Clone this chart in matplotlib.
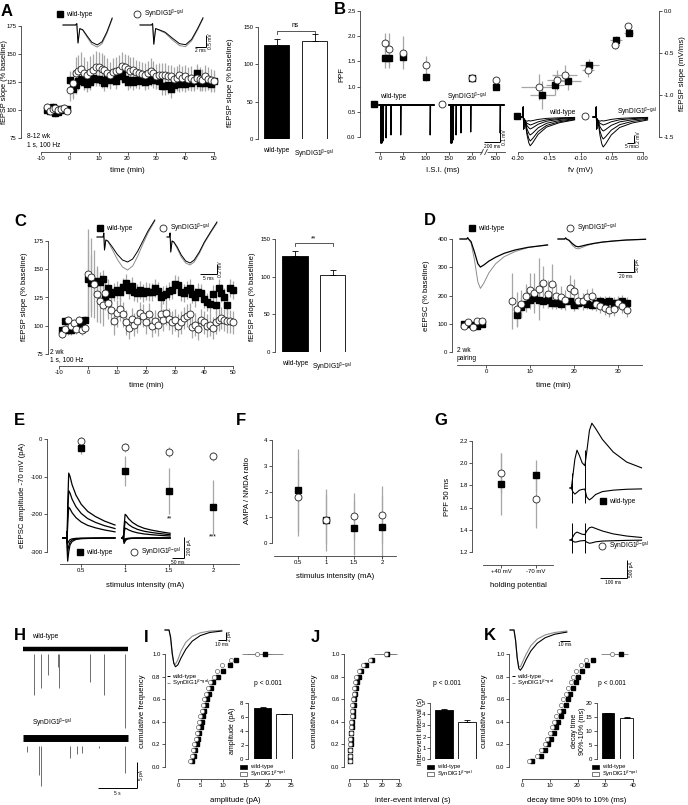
import numpy as np
import matplotlib
matplotlib.use("Agg")
import matplotlib.pyplot as plt
from matplotlib.lines import Line2D
from matplotlib.patches import Rectangle

plt.rcParams['font.family'] = ['Liberation Sans', 'DejaVu Sans']
plt.rcParams['mathtext.fontset'] = 'custom'
plt.rcParams['mathtext.rm'] = 'Liberation Sans'
plt.rcParams['mathtext.it'] = 'Liberation Sans:italic'
plt.rcParams['mathtext.bf'] = 'Liberation Sans:bold'

# ======================= DATA =======================
# ---- Panel A (8-12 wk, LTP) ----
A_t_base = [-8, -7, -6, -5, -4, -3, -2, -1]
A_wt_base = [100, 99, 103, 97, 98, 101, 100, 101]
A_syn_base = [103, 99, 101, 102, 100, 101, 102, 99]
A_base_err = [3, 3, 3, 3, 3, 3, 3, 3]
A_t_post = list(range(0, 51))
A_wt_post = [127, 119, 122, 126, 128, 125, 123, 125, 129, 128,
             128, 127, 124, 130, 127, 129, 126, 130, 132, 128,
             125, 127, 125, 127, 126, 128, 125, 126, 128, 127,
             127, 126, 121, 121, 122, 119, 122, 124, 123, 124,
             123, 125, 124, 126, 133, 124, 125, 124, 126, 123, 126]
A_wt_err = [8, 9, 8, 8, 7, 7, 7, 7, 8, 7,
            7, 7, 7, 8, 7, 7, 7, 7, 8, 7,
            7, 7, 7, 7, 7, 7, 7, 7, 7, 7,
            7, 7, 8, 8, 8, 8, 7, 7, 7, 7,
            7, 7, 7, 7, 8, 7, 7, 7, 7, 7, 7]
A_syn_post = [118, 124, 133, 135, 137, 133, 131, 134, 136, 138,
              138, 137, 136, 133, 131, 134, 135, 136, 139, 138,
              137, 135, 136, 134, 133, 132, 131, 133, 135, 133,
              130, 131, 131, 131, 130, 130, 128, 129, 131, 129,
              130, 128, 129, 127, 129, 128, 127, 130, 128, 127, 126]
A_syn_err = [10, 12, 14, 14, 15, 14, 13, 14, 14, 15,
             14, 14, 13, 13, 12, 12, 12, 13, 13, 12,
             12, 12, 11, 11, 11, 11, 11, 11, 11, 11,
             11, 11, 11, 11, 10, 10, 10, 10, 10, 10,
             10, 10, 10, 10, 10, 10, 10, 10, 10, 10, 10]
A_bar_labels = ['wild-type', r'SynDIG1$^{\beta\mathrm{-gal}}$']
A_bar_vals = [126, 131]
A_bar_err = [8, 9]

# fEPSP example traces (ms, mV)
A_tr_t_wt = [0, 2.1, 2.3, 2.5, 2.8, 3.3, 4.0, 4.8, 5.7, 6.5, 7.3, 8.2]
A_tr_wt_k = [0, 0, 0.06, -0.75, -0.15, -0.2, -0.45, -0.72, -0.83, -0.7, -0.3, 0.29]
A_tr_wt_g = [0, 0, 0.06, -0.75, -0.15, -0.22, -0.5, -0.8, -0.92, -0.78, -0.36, 0.25]
A_tr_t_syn = [0, 1.9, 2.1, 2.3, 2.6, 3.2, 4.2, 5.4, 6.6, 7.6, 8.6, 9.6, 10.5]
A_tr_syn_k = [0, 0, 0.06, -0.8, -0.15, -0.2, -0.3, -0.55, -0.78, -0.82, -0.6, -0.15, 0.3]
A_tr_syn_g = [0, 0, 0.06, -0.8, -0.15, -0.22, -0.34, -0.62, -0.86, -0.9, -0.66, -0.2, 0.26]

# ---- Panel B ----
B_isi = [10, 20, 50, 100, 200, 500]
B_isi_ticks = [0, 50, 100, 150, 200, 500]
B_ppf_wt = [1.57, 1.57, 1.59, 1.19, 1.17, 0.99]
B_ppf_wt_err = [0.2, 0.2, 0.1, 0.08, 0.08, 0.05]
B_ppf_syn = [1.87, 1.74, 1.67, 1.42, 1.18, 1.13]
B_ppf_syn_err = [0.2, 0.33, 0.33, 0.18, 0.06, 0.05]
B_fv_wt = [-0.161, -0.141, -0.120, -0.086, -0.043, -0.023]
B_fv_wt_err = [0.02, 0.015, 0.02, 0.015, 0.01, 0.007]
B_sl_wt = [-1.00, -0.885, -0.837, -0.647, -0.341, -0.258]
B_sl_wt_err = [0.17, 0.12, 0.1, 0.07, 0.04, 0.03]
B_fv_syn = [-0.167, -0.138, -0.125, -0.088, -0.045, -0.024]
B_fv_syn_err = [0.028, 0.015, 0.02, 0.01, 0.006, 0.005]
B_sl_syn = [-0.905, -0.825, -0.766, -0.706, -0.409, -0.183]
B_sl_syn_err = [0.15, 0.12, 0.12, 0.08, 0.04, 0.03]
# paired-pulse example sweeps (depth of 1st and 2nd response, mV)
B_pp_first = 0.38
B_pp_wt_second = [0.38, 0.36, 0.33, 0.30, 0.30, 0.30]
B_pp_syn_second = [0.38, 0.35, 0.30, 0.28, 0.27, 0.28]
# input-output sweeps (ms, relative shape, amplitudes mV)
B_io_t = [0, 2, 2.3, 2.6, 3.0, 3.8, 5.0, 6.3, 7.3, 9, 13, 19, 28, 39]
B_io_art = [0, 0, 0.25, -0.3, -0.05, -0.08, -0.05, 0, 0, 0, 0, 0, 0, 0]
B_io_shape = [0, 0, 0, 0, 0, -0.1, -0.55, -0.9, -1.0, -0.9, -0.6, -0.35, -0.2, -0.1]
B_io_wt_amp = [0.1, 0.2, 0.3, 0.45, 0.6, 0.72]
B_io_syn_amp = [0.1, 0.2, 0.35, 0.55, 0.75]

# ---- Panel C (2 wk, LTP) ----
C_t_base = [-9, -8, -7, -6, -5, -4, -3, -2, -1]
C_wt_base = [96, 104, 96, 96, 101, 99, 101, 99, 105]
C_syn_base = [93, 97, 105, 100, 102, 97, 105, 96, 98]
C_base_err = [4, 4, 4, 4, 4, 4, 4, 4, 4]
C_t_post = list(range(0, 51))
C_wt_post = [141, 138, 138, 140, 139, 141, 125, 133, 128, 130,
             132, 130, 134, 138, 132, 135, 130, 129, 132, 129,
             131, 130, 130, 133, 131, 125, 127, 128, 131, 132,
             137, 136, 130, 129, 132, 133, 128, 125, 130, 129,
             124, 121, 119, 128, 118, 133, 129, 125, 118, 133, 132]
C_wt_err = [35, 25, 12, 10, 9, 8, 8, 8, 8, 8,
            8, 8, 8, 8, 8, 8, 8, 8, 8, 8,
            8, 8, 8, 8, 8, 8, 8, 8, 8, 8,
            8, 8, 8, 8, 8, 8, 8, 8, 8, 8,
            8, 8, 8, 8, 8, 8, 8, 8, 8, 8, 8]
C_syn_post = [146, 143, 137, 128, 122, 118, 129, 120, 114, 104,
              111, 115, 110, 103, 98, 106, 101, 104, 111, 109,
              103, 110, 100, 104, 101, 110, 105, 111, 106, 103,
              105, 100, 103, 107, 109, 110, 99, 101, 97, 105,
              103, 100, 101, 98, 103, 105, 107, 105, 104, 104, 103]
C_syn_err = [40, 35, 30, 25, 20, 18, 15, 14, 13, 12,
             12, 11, 11, 11, 10, 10, 10, 10, 10, 10,
             10, 10, 10, 10, 10, 10, 10, 10, 10, 10,
             10, 10, 10, 10, 10, 10, 10, 10, 10, 10,
             10, 10, 10, 10, 10, 10, 10, 10, 10, 10, 10]
C_bar_vals = [128, 102]
C_bar_err = [6, 7]
C_tr_t_wt = [0, 1.8, 2.0, 2.2, 2.6, 3.2, 4.5, 6.0, 7.5, 9.0, 10.5, 12.0, 13.5, 15.0, 17.0]
C_tr_wt_k = [0, 0, 0.08, -0.26, -0.06, -0.08, -0.2, -0.35, -0.46, -0.5, -0.44, -0.28, -0.08, 0.12, 0.34]
C_tr_wt_g = [0, 0, 0.08, -0.26, -0.06, -0.09, -0.25, -0.45, -0.6, -0.66, -0.58, -0.38, -0.14, 0.08, 0.32]
C_tr_t_syn = [0, 0.7, 0.9, 1.1, 1.5, 2.0, 3.0, 4.2, 5.5, 6.8, 8.0, 9.5, 11.0, 12.8, 14.7]
C_tr_syn_k = [0, 0, 0.08, -0.3, -0.08, -0.1, -0.2, -0.36, -0.48, -0.52, -0.46, -0.3, -0.1, 0.1, 0.3]
C_tr_syn_g = [0, 0, 0.08, -0.3, -0.08, -0.1, -0.23, -0.4, -0.52, -0.56, -0.5, -0.33, -0.12, 0.08, 0.28]

# ---- Panel D (2 wk, pairing) ----
D_t_base = [-5, -4, -3, -2, -1]
D_wt_base = [100, 98, 96, 93, 100]
D_syn_base = [93, 107, 88, 108, 111]
D_base_err = [8, 8, 8, 8, 8]
D_t_syn = list(range(6, 33))
D_syn_post = [180, 153, 171, 197, 221, 209, 223, 244, 205, 242, 199, 193, 183, 227,
              217, 182, 179, 193, 197, 171, 162, 156, 150, 152, 173, 164, 150]
D_syn_err = [100, 60, 50, 45, 60, 70, 110, 60, 50, 70, 40, 40, 35, 45,
             40, 30, 30, 30, 30, 25, 25, 25, 25, 25, 25, 25, 25]
D_t_wt = list(range(7, 33))
D_wt_post = [132, 159, 171, 183, 191, 185, 182, 185, 173, 173, 171, 179, 179,
             165, 173, 176, 171, 168, 173, 179, 177, 179, 173, 173, 182, 173]
D_wt_err = [45, 35, 30, 30, 30, 25, 25, 25, 20, 20, 20, 20, 20,
            20, 20, 20, 20, 20, 20, 20, 20, 20, 20, 20, 20, 20]
D_tr_t = [0, 8, 9, 10, 13, 17, 21, 24, 28, 34, 42, 52, 65, 80, 103]
D_tr_wt_k = [0, 0, 5, 0, -10, -50, -95, -108, -100, -85, -70, -55, -42, -32, -23]
D_tr_wt_g = [0, 0, 5, 0, -15, -80, -165, -190, -170, -130, -95, -68, -48, -33, -22]
D_tr_syn_k = [0, 0, 4, 0, -5, -18, -28, -30, -27, -22, -17, -12, -8, -4, -1]
D_tr_syn_g = [0, 0, 4, 0, -6, -25, -36, -38, -33, -25, -18, -12, -7, -4, -1]

# ---- Panel E ----
E_x = [0.5, 1, 1.5, 2]
E_wt = [-24, -85, -138, -180]
E_wt_err = [16, 40, 62, 72]
E_syn = [-4, -22, -35, -46]
E_syn_err = [9, 12, 13, 12]
E_tr_t_wt = [0, 14, 15, 16, 18, 22, 27, 35, 50, 70, 95, 125, 160, 200]
E_tr_t_syn = [0, 4, 5, 6, 8, 12, 17, 25, 40, 60, 85, 115, 150, 185]
E_up_shape = [0, 0, 0.1, -0.08, 0.5, 1.0, 0.95, 0.82, 0.66, 0.52, 0.41, 0.33, 0.26, 0.2]
E_dn_shape = [0, 0, 0.1, -0.5, -1.0, -0.6, -0.3, -0.15, -0.06, -0.03, -0.02, -0.01, 0, 0]
E_wt_up_amp = [590, 430, 280]
E_wt_dn_amp = [210, 120, 50]
E_syn_up_amp = [215, 150, 90]
E_syn_dn_amp = [50, 30, 15]

# ---- Panel F ----
F_x = [0.5, 1, 1.5, 2]
F_wt = [2.05, 0.9, 0.58, 0.61]
F_wt_err = [1.6, 0.95, 1.05, 1.2]
F_syn = [1.78, 0.9, 1.03, 1.1]
F_syn_err = [1.5, 1.2, 0.9, 1.1]

# ---- Panel G ----
G_labels = ['+40 mV', '-70 mV']
G_wt = [1.81, 1.89]
G_wt_err = [0.28, 0.14]
G_syn = [1.91, 1.68]
G_syn_err = [0.18, 0.26]
G_tr_t = [0, 5, 10, 18, 26, 35, 45, 55, 62, 72, 81, 95, 120, 160, 210, 265]
G_wt_up = [0, 0, 300, 800, 1050, 900, 700, 620, 1000, 1600, 1800, 1650, 1350, 1000, 720, 560]
G_wt_dn = [0, 0, -100, -170, -120, -60, -40, -30, -250, -330, -280, -180, -100, -60, -35, -25]
G_syn_up = [0, 0, 80, 180, 220, 190, 160, 150, 250, 340, 360, 320, 250, 170, 110, 70]
G_syn_dn = [0, 0, -30, -60, -50, -30, -20, -15, -60, -90, -80, -50, -30, -20, -10, -5]
G_stim_t = [7, 55]

# ---- Panel H (mEPSC traces, s / pA) ----
H_dur = 13.5
H_wt_ev_t = [1.41, 2.31, 3.21, 4.49, 4.62, 8.59, 10.38, 13.08]
H_wt_ev_a = [8.8, 7.5, 5.0, 3.5, 7.5, 6.3, 8.8, 15.2]
H_syn_ev_t = [0.51, 2.05, 2.31, 6.03, 6.92, 7.56, 9.74, 13.08]
H_syn_ev_a = [2.7, 7.1, 9.2, 3.8, 3.1, 2.9, 1.9, 6.7]

# ---- Panels I, J, K (cumulative distributions) ----
cum_freq = [0.05, 0.10, 0.15, 0.20, 0.25, 0.30, 0.35, 0.40, 0.45, 0.50,
            0.55, 0.60, 0.65, 0.70, 0.75, 0.80, 0.85, 0.90, 0.95]
I_wt = [3.2, 3.6, 3.8, 4.1, 4.4, 4.7, 5.0, 5.3, 5.6, 5.8, 6.1, 6.5, 6.8, 7.2, 7.8, 8.9, 10.0, 11.6, 12.8]
I_syn = [2.6, 3.1, 3.4, 3.6, 3.9, 4.1, 4.4, 4.7, 4.9, 5.2, 5.5, 5.8, 6.2, 6.6, 7.1, 7.9, 8.7, 9.8, 11.8]
I_top = {'wt': (19.3, 4.0), 'syn': (17.5, 3.3)}
I_bar = [7.3, 6.4]
I_bar_err = [0.12, 0.1]
J_wt = [0.35, 0.45, 0.6, 0.8, 1.0, 1.2, 1.45, 1.65, 1.9, 2.25, 2.5, 2.9, 3.3, 3.9, 4.6, 5.6, 7.3, 10.3, 13.8]
J_syn = [0.1, 0.2, 0.35, 0.45, 0.6, 0.8, 0.95, 1.15, 1.35, 1.6, 1.85, 2.15, 2.5, 2.9, 3.4, 4.1, 5.6, 8.3, 12.2]
J_top = {'wt': (22.5, 5.0), 'syn': (21.9, 7.0)}
J_bar = [4.35, 3.3]
J_bar_err = [0.15, 0.15]
K_wt = [3.6, 6.7, 8.2, 9.4, 10.6, 11.6, 12.4, 13.1, 14.0, 14.8, 15.7, 16.4, 17.2, 18.2, 19.3, 20.2, 21.8, 23.6, 25.6]
K_syn = [2.4, 5.5, 6.9, 8.2, 9.1, 10.0, 10.8, 11.6, 12.4, 13.2, 14.0, 14.9, 15.7, 16.6, 17.5, 18.4, 19.6, 21.4, 23.2]
K_top = {'wt': (35.6, 2.5), 'syn': (32.4, 4.0)}
K_bar = [16.3, 14.7]
K_bar_err = [0.3, 0.3]
# average mEPSC waveforms (ms, pA)
mini_t = [0, 5, 7, 9, 11, 13, 16, 20, 26, 34, 44, 56, 71]
I_tr_k = [0, 0, -2, -6.5, -9.5, -10.5, -10, -8, -5.5, -3.2, -1.6, -0.7, -0.3]
I_tr_g = [0, 0, -2.5, -7, -9.5, -9.8, -8.5, -6, -3.5, -1.8, -0.8, -0.3, -0.1]
K_tr_k = [0, 0, -3, -8, -11, -11.5, -10.5, -8.5, -6, -3.8, -2.2, -1.2, -0.6]
K_tr_g = [0, 0, -3, -8, -10.5, -10.5, -9, -7, -4.5, -2.6, -1.4, -0.7, -0.3]

# ======================= DRAWING =======================
W, H = 688, 805
fig = plt.figure(figsize=(W / 100, H / 100), dpi=100)

AXC = '#3a3a3a'
ERRC = '#a6a6a6'
TICK_FS = 4.3
LAB_FS = 5.6
LEG_FS = 4.8
SMALL_FS = 4.2
LET_FS = 12
SYN = r'SynDIG1$^{\beta\mathrm{-gal}}$'
GREY_TR = '#8c8c8c'


def mkax(l, t, r, b, xmap, ymap):
    ax = fig.add_axes([l / W, 1 - b / H, (r - l) / W, (b - t) / H])
    xv0, xp0, xv1, xp1 = xmap
    sx = (xp1 - xp0) / (xv1 - xv0)
    ax.set_xlim(xv0 + (l - xp0) / sx, xv0 + (r - xp0) / sx)
    yv0, yp0, yv1, yp1 = ymap
    sy = (yp1 - yp0) / (yv1 - yv0)
    ax.set_ylim(yv0 + (b - yp0) / sy, yv0 + (t - yp0) / sy)
    ax.patch.set_visible(False)
    return ax


def igor(ax, yb=None, yt=None, ytl=None, xb=None, xt=None, xtl=None, right=False):
    for s in ax.spines.values():
        s.set_visible(False)
    if yb is not None:
        side = 'right' if right else 'left'
        sp = ax.spines[side]
        sp.set_visible(True)
        sp.set_bounds(*yb)
        sp.set_color(AXC)
        sp.set_linewidth(0.6)
        ax.set_yticks(yt)
        ax.set_yticklabels(ytl)
        if right:
            ax.yaxis.tick_right()
    else:
        ax.set_yticks([])
    if xb is not None:
        sp = ax.spines['bottom']
        sp.set_visible(True)
        sp.set_bounds(*xb)
        sp.set_color(AXC)
        sp.set_linewidth(0.6)
        ax.set_xticks(xt)
        ax.set_xticklabels(xtl)
    else:
        ax.set_xticks([])
    ax.tick_params(length=2, width=0.6, color=AXC, pad=1.2, labelsize=TICK_FS, direction='out')


def ftext(x, y, s, size=LEG_FS, ha='left', va='center', rot=0, weight='normal', color='black'):
    fig.text(x / W, 1 - y / H, s, fontsize=size, ha=ha, va=va, rotation=rot,
             fontweight=weight, color=color)


def fline(xs, ys, color='black', lw=0.7):
    fig.add_artist(Line2D([x / W for x in xs], [1 - y / H for y in ys],
                          transform=fig.transFigure, color=color, lw=lw, solid_capstyle='butt'))


def fmark(x, y, kind, ms=None):
    if kind == 'sq':
        fig.add_artist(Line2D([x / W], [1 - y / H], transform=fig.transFigure, marker='s',
                              ms=ms or 4.0, mfc='black', mec='black', lw=0))
    else:
        fig.add_artist(Line2D([x / W], [1 - y / H], transform=fig.transFigure, marker='o',
                              ms=ms or 5.0, mfc='white', mec='#222222', mew=0.6, lw=0))


def letter(x, y, s):
    ftext(x, y, s, size=LET_FS, weight='bold', ha='left', va='center')


def series(ax, x, y, e, kind, ms=None, xe=None):
    ax.errorbar(x, y, yerr=e, xerr=xe, fmt='none', ecolor=ERRC, elinewidth=0.9, capsize=0,
                zorder=1, clip_on=False)
    if kind == 'sq':
        ax.plot(x, y, 's', ms=ms or 4.0, mfc='black', mec='black', zorder=3, clip_on=False)
    else:
        ax.plot(x, y, 'o', ms=ms or 5.0, mfc='white', mec='#222222', mew=0.6, zorder=4,
                clip_on=False)


def trace(ax, t, v, color='black', lw=0.7):
    ax.plot(t, v, color=color, lw=lw, clip_on=False, solid_joinstyle='round')


def bars(ax, vals, errs, width, labels, ypad):
    ax.bar([0, 1], vals, width=width, color=['black', 'white'], edgecolor='black',
           linewidth=0.6, zorder=2)
    ax.errorbar([0, 1], vals, yerr=[[0, 0], errs], fmt='none', ecolor='black',
                elinewidth=0.6, capsize=2.2, capthick=0.6, zorder=3)
    if labels is not None:
        ax.set_xticks([0, 1])
        ax.set_xticklabels(labels)
        ax.tick_params(axis='x', length=0, pad=ypad, labelsize=LEG_FS)


def scalebar(xh0, xh1, yh, xv, yv0, yv1, htxt, vtxt, hty, vtx):
    fline([xh0, xh1], [yh, yh])
    if xv is not None:
        fline([xv, xv], [yv0, yv1])
    if htxt:
        ftext((xh0 + xh1) / 2, hty, htxt, size=3.5, ha='center')
    if vtxt:
        ftext(vtx, (yv0 + yv1) / 2, vtxt, size=3.5, ha='center', rot=90)


def legend_pair(xs, ys, xc, yc, size=LEG_FS):
    fmark(xs, ys, 'sq')
    ftext(xs + 6, ys, 'wild-type', size=size)
    fmark(xc, yc, 'ci')
    ftext(xc + 7, yc, SYN, size=size)


# ---------------- Panel A ----------------
letter(1, 12, 'A')
axA = mkax(21, 26, 216, 152, (-10, 41, 50, 214), (75, 138, 175, 26))
igor(axA, yb=(75, 175), yt=[75, 100, 125, 150, 175], ytl=['75', '100', '125', '150', '175'],
     xb=(-10, 50), xt=[-10, 0, 10, 20, 30, 40, 50], xtl=['-10', '0', '10', '20', '30', '40', '50'])
series(axA, A_t_base, A_wt_base, A_base_err, 'sq')
series(axA, A_t_post, A_wt_post, A_wt_err, 'sq')
series(axA, A_t_base, A_syn_base, A_base_err, 'ci')
series(axA, A_t_post, A_syn_post, A_syn_err, 'ci')
ftext(4.5, 82, 'fEPSP slope (% baseline)', size=LAB_FS - 0.3, ha='center', rot=90)
ftext(127, 171, 'time (min)', size=LAB_FS, ha='center')
ftext(27, 137, '8-12 wk')
ftext(27, 145, '1 s, 100 Hz')
legend_pair(60, 14, 137, 14)
tA1 = mkax(60, 12, 118, 55, (0, 63, 2, 75), (0, 25, -0.5, 37))
tA1.axis('off')
trace(tA1, A_tr_t_wt, A_tr_wt_g, GREY_TR)
trace(tA1, A_tr_t_wt, A_tr_wt_k)
tA2 = mkax(137, 12, 205, 55, (0, 140, 2, 152), (0, 25, -0.5, 37))
tA2.axis('off')
trace(tA2, A_tr_t_syn, A_tr_syn_g, GREY_TR)
trace(tA2, A_tr_t_syn, A_tr_syn_k)
scalebar(195, 206, 47, 206, 35, 47, '2 ms', '0.5 mV', 51, 210)

axAb = mkax(258, 27, 338, 139, (0, 276.5, 1, 314.5), (0, 139, 150, 27))
igor(axAb, yb=(0, 150), yt=[0, 50, 100, 150], ytl=['0', '50', '100', '150'])
bars(axAb, A_bar_vals, A_bar_err, 0.66, ['wild-type', SYN], 6)
axAb.plot([0, 0, 1, 1], [141, 145, 145, 141], color=AXC, lw=0.6, clip_on=False)
axAb.text(0.5, 147, 'ns', ha='center', va='bottom', fontsize=LEG_FS)
ftext(230, 83, 'fEPSP slope (% baseline)', size=LAB_FS, ha='center', rot=90)

# ---------------- Panel B ----------------
letter(334, 9, 'B')


def isi_pos(v):
    return np.where(np.asarray(v) <= 250, np.asarray(v), np.asarray(v) - 248)


axBL = mkax(360, 11, 505, 152, (0, 380, 200, 472), (0, 137, 2.5, 11))
igor(axBL, yb=(0, 2.5), yt=[0, 0.5, 1, 1.5, 2, 2.5], ytl=['0.0', '0.5', '1.0', '1.5', '2.0', '2.5'],
     xb=(-10, 272), xt=list(isi_pos(B_isi_ticks)), xtl=[str(v) for v in B_isi_ticks])
series(axBL, isi_pos(B_isi), B_ppf_wt, B_ppf_wt_err, 'sq')
series(axBL, isi_pos(B_isi), B_ppf_syn, B_ppf_syn_err, 'ci')
fline([481.5, 486.5], [152, 152], color='white', lw=2.2)
fline([480.5, 483.5], [155, 149], color=AXC, lw=0.6)
fline([484.5, 487.5], [155, 149], color=AXC, lw=0.6)
ftext(342, 74, 'PPF', size=LAB_FS, ha='center', rot=90)
ftext(443, 170, 'I.S.I. (ms)', size=LAB_FS, ha='center')

axBR = mkax(510, 11, 659, 152, (-0.2, 518, 0, 643), (0, 11, -1.5, 137))
igor(axBR, yb=(-1.5, 0), yt=[-1.5, -1.0, -0.5, 0.0], ytl=['-1.5', '-1.0', '-0.5', '0.0'],
     xb=(-0.2, 0), xt=[-0.2, -0.15, -0.1, -0.05, 0.0],
     xtl=['-0.20', '-0.15', '-0.10', '-0.05', '0.00'], right=True)
series(axBR, B_fv_wt, B_sl_wt, B_sl_wt_err, 'sq', xe=B_fv_wt_err)
series(axBR, B_fv_syn, B_sl_syn, B_sl_syn_err, 'ci', xe=B_fv_syn_err)
ftext(683, 74, 'fEPSP slope (mV/ms)', size=LAB_FS, ha='center', rot=90)
ftext(580, 170, 'fv (mV)', size=LAB_FS, ha='center')

# paired-pulse sweeps
for (l, x0, seconds) in [(376, 381, B_pp_wt_second), (446, 451, B_pp_syn_second)]:
    tp = mkax(l, 98, l + 62, 150, (0, x0, 100, x0 + 9.8), (0, 105, -0.1, 115))
    tp.axis('off')
    s0 = 0
    for isi, d2 in zip(B_isi, seconds):
        tt = [-20, s0, s0 + 1.5, s0 + 6, s0 + isi, s0 + isi + 1.5, s0 + isi + 6, 540]
        vv = [0, 0, -B_pp_first, 0, 0, -d2, 0, 0]
        trace(tp, tt, vv, lw=0.8)
fmark(374, 104, 'sq')
fmark(442, 104, 'ci')
ftext(380, 97, 'wild-type')
ftext(447, 97, SYN)
scalebar(484, 500, 142, 500, 132, 142, '200 ms', '0.1 mV', 146, 504)

# input-output sweeps
for (l, x0, amps) in [(518, 520, B_io_wt_amp), (590, 593, B_io_syn_amp)]:
    ti = mkax(l, 108, l + 60, 150, (0, x0, 10, x0 + 14), (0, 117, -0.2, 125))
    ti.axis('off')
    for a in amps:
        vv = [ar + a * sh for ar, sh in zip(B_io_art, B_io_shape)]
        trace(ti, B_io_t, vv, lw=0.7)
fmark(517, 116, 'sq')
fmark(585, 116, 'ci')
ftext(549, 113, 'wild-type')
ftext(617, 112, SYN)
scalebar(627, 634, 143, 634, 135, 143, '5 ms', '0.2 mV', 146, 638)

# ---------------- Panel C ----------------
letter(14, 222, 'C')
axC = mkax(48, 241, 238, 366, (-10, 59, 50, 233), (75, 354, 175, 241))
igor(axC, yb=(75, 175), yt=[75, 100, 125, 150, 175], ytl=['75', '100', '125', '150', '175'],
     xb=(-10, 50), xt=[-10, 0, 10, 20, 30, 40, 50], xtl=['-10', '0', '10', '20', '30', '40', '50'])
series(axC, C_t_base, C_wt_base, C_base_err, 'sq')
series(axC, C_t_post, C_wt_post, C_wt_err, 'sq')
series(axC, C_t_base, C_syn_base, C_base_err, 'ci')
series(axC, C_t_post, C_syn_post, C_syn_err, 'ci')
ftext(25, 297, 'fEPSP slope (% baseline)', size=LAB_FS, ha='center', rot=90)
ftext(146, 385, 'time (min)', size=LAB_FS, ha='center')
ftext(50, 352, '2 wk')
ftext(50, 360, '1 s, 100 Hz')
legend_pair(100, 228, 163, 228)
tC1 = mkax(95, 215, 160, 275, (0, 97, 5, 114), (0, 237, -0.2, 247))
tC1.axis('off')
trace(tC1, C_tr_t_wt, C_tr_wt_g, GREY_TR)
trace(tC1, C_tr_t_wt, C_tr_wt_k)
tC2 = mkax(165, 215, 222, 275, (0, 167, 5, 184), (0, 237, -0.2, 247))
tC2.axis('off')
trace(tC2, C_tr_t_syn, C_tr_syn_g, GREY_TR)
trace(tC2, C_tr_t_syn, C_tr_syn_k)
scalebar(200, 217, 274, 217, 264, 274, '5 ms', '0.2 mV', 278, 221)

axCb = mkax(275, 239, 352, 352, (0, 295, 1, 332.5), (0, 352, 150, 239))
igor(axCb, yb=(0, 150), yt=[0, 50, 100, 150], ytl=['0', '50', '100', '150'])
bars(axCb, C_bar_vals, C_bar_err, 0.69, ['wild-type', SYN], 6)
axCb.plot([0, 0, 1, 1], [141, 145, 145, 141], color=AXC, lw=0.6, clip_on=False)
axCb.text(0.5, 146, '**', ha='center', va='bottom', fontsize=LEG_FS)
ftext(252, 297, 'fEPSP slope (% baseline)', size=LAB_FS, ha='center', rot=90)

# ---------------- Panel D ----------------
letter(424, 220, 'D')
axD = mkax(452, 239, 645, 365, (0, 486, 30, 618), (0, 352, 400, 239))
igor(axD, yb=(0, 400), yt=[0, 100, 200, 300, 400], ytl=['0', '100', '200', '300', '400'],
     xb=(-6.6, 35.5), xt=[0, 10, 20, 30], xtl=['0', '10', '20', '30'])
series(axD, D_t_base, D_wt_base, D_base_err, 'sq')
series(axD, D_t_wt, D_wt_post, D_wt_err, 'sq')
series(axD, D_t_base, D_syn_base, D_base_err, 'ci')
series(axD, D_t_syn, D_syn_post, D_syn_err, 'ci')
ftext(427, 296, 'eEPSC (% baseline)', size=LAB_FS, ha='center', rot=90)
ftext(553, 385, 'time (min)', size=LAB_FS, ha='center')
ftext(457, 350, '2 wk')
ftext(457, 359, 'pairing')
legend_pair(472, 228, 570, 228)
tD1 = mkax(458, 232, 552, 292, (0, 460, 20, 477), (0, 239, -50, 252))
tD1.axis('off')
trace(tD1, D_tr_t, D_tr_wt_g, GREY_TR)
trace(tD1, D_tr_t, D_tr_wt_k, lw=0.9)
tD2 = mkax(556, 232, 650, 292, (0, 558, 20, 575), (0, 239, -50, 252))
tD2.axis('off')
trace(tD2, D_tr_t, D_tr_syn_g, GREY_TR)
trace(tD2, D_tr_t, D_tr_syn_k, lw=0.9)
scalebar(617, 634, 272, 634, 259, 272, '20 ms', '50 pA', 276, 638)

# ---------------- Panel E ----------------
letter(14, 420, 'E')
axE = mkax(47, 439, 240, 564, (0.5, 81, 2, 213), (0, 439, -300, 552))
igor(axE, yb=(-300, 0), yt=[0, -100, -200, -300], ytl=['0', '-100', '-200', '-300'],
     xb=(0.26, 2.3), xt=E_x, xtl=['0.5', '1', '1.5', '2'])
series(axE, E_x, E_wt, E_wt_err, 'sq')
series(axE, E_x, E_syn, E_syn_err, 'ci')
axE.text(1.5, -213, '**', ha='center', va='center', fontsize=LEG_FS)
axE.text(2, -260, '***', ha='center', va='center', fontsize=LEG_FS)
ftext(23, 495, 'eEPSC amplitude -70 mV (pA)', size=LAB_FS, ha='center', rot=90)
ftext(145, 585, 'stimulus intensity (mA)', size=LAB_FS, ha='center')
legend_pair(80, 552, 134, 552)
for (l, x0, tt, ups, dns) in [(58, 63, E_tr_t_wt, E_wt_up_amp, E_wt_dn_amp),
                              (118, 122, E_tr_t_syn, E_syn_up_amp, E_syn_dn_amp)]:
    te = mkax(l, 465, l + 58, 570, (0, x0, 50, x0 + 13), (0, 538, 200, 516))
    te.axis('off')
    for a in ups:
        trace(te, tt, [a * s for s in E_up_shape], lw=0.9)
    for a in dns:
        trace(te, tt, [a * s for s in E_dn_shape], lw=0.9)
scalebar(172, 184, 558, 184, 537, 558, '50 ms', '200 pA', 562, 189)

# ---------------- Panel F ----------------
letter(236, 420, 'F')
axF = mkax(272, 440, 400, 556, (0.5, 298, 2, 382), (0, 543, 4, 440))
igor(axF, yb=(0, 4), yt=[0, 1, 2, 3, 4], ytl=['0', '1', '2', '3', '4'],
     xb=(0.07, 2.25), xt=F_x, xtl=['0.5', '1', '1.5', '2'])
series(axF, F_x, F_wt, F_wt_err, 'sq')
series(axF, F_x, F_syn, F_syn_err, 'ci')
ftext(248, 490, 'AMPA / NMDA ratio', size=LAB_FS, ha='center', rot=90)
ftext(335, 576, 'stimulus intensity (mA)', size=LAB_FS, ha='center')

# ---------------- Panel G ----------------
letter(434, 420, 'G')
axG = mkax(472, 441, 556, 565, (0, 501, 1, 536), (1.2, 552, 2.2, 441))
igor(axG, yb=(1.2, 2.2), yt=[1.2, 1.4, 1.6, 1.8, 2.0, 2.2],
     ytl=['1.2', '1.4', '1.6', '1.8', '2.0', '2.2'],
     xb=(-0.51, 1.49), xt=[0, 1], xtl=G_labels)
series(axG, [0, 1], G_wt, G_wt_err, 'sq')
series(axG, [0, 1], G_syn, G_syn_err, 'ci')
ftext(447, 497, 'PPF 50 ms', size=LAB_FS, ha='center', rot=90)
ftext(518, 585, 'holding potential', size=LAB_FS, ha='center')
tG1 = mkax(565, 415, 650, 510, (0, 570, 100, 597), (0, 488, 500, 470))
tG1.axis('off')
trace(tG1, G_tr_t, G_wt_up, lw=0.8)
trace(tG1, G_tr_t, G_wt_dn, lw=0.8)
tG1.vlines(G_stim_t, [-420, -420], [420, 1055], color='black', lw=0.7)
tG2 = mkax(565, 510, 650, 560, (0, 570, 100, 597), (0, 540, 500, 522))
tG2.axis('off')
trace(tG2, G_tr_t, G_syn_up, lw=0.8)
trace(tG2, G_tr_t, G_syn_dn, lw=0.8)
tG2.vlines(G_stim_t, [-360, -360], [470, 470], color='black', lw=0.7)
fmark(603, 501, 'sq')
ftext(609, 501, 'wild-type')
fmark(602, 546, 'ci')
ftext(609, 546, SYN)
scalebar(600, 627, 578, 627, 560, 578, '100 ms', '500 pA', 582, 632)

# ---------------- Panel H ----------------
letter(14, 636, 'H')
ftext(32, 636, 'wild-type')
ftext(32, 723, SYN)
tH = mkax(20, 640, 140, 800, (0, 23, 5, 62), (0, 649, -5, 675))
tH.axis('off')
syn_base = -(738 - 649) / 5.2
tH.plot([0, H_dur], [0, 0], color='black', lw=3.2, solid_capstyle='butt')
tH.vlines(H_wt_ev_t, [-1] * len(H_wt_ev_t), [-a for a in H_wt_ev_a], color='#555555', lw=0.6)
tH.plot([0, H_dur], [syn_base, syn_base], color='black', lw=5.0, solid_capstyle='butt')
tH.vlines(H_syn_ev_t, [syn_base - 1.5] * len(H_syn_ev_t),
          [syn_base - a for a in H_syn_ev_a], color='#555555', lw=0.6)
scalebar(98, 137, 788, 137, 762, 788, '5 s', '5 pA', 793, 141)


# ---------------- Panels I, J, K ----------------
def cum_panel(l, xmap, xb, xt, wt, syn, top, xlabel, xlab_x, ylab_x):
    ax = mkax(l, 654, xmap[3] + 6, 779, xmap, (0, 767, 1, 654))
    igor(ax, yb=(0, 1), yt=[0, 0.2, 0.4, 0.6, 0.8, 1.0],
         ytl=['0.0', '0.2', '0.4', '0.6', '0.8', '1.0'],
         xb=xb, xt=xt, xtl=[str(v) for v in xt])
    ax.errorbar([top['syn'][0], top['wt'][0]], [1.0, 1.0],
                xerr=[top['syn'][1], top['wt'][1]], fmt='none', ecolor='#777777',
                elinewidth=0.6, capsize=0, clip_on=False, zorder=1)
    ax.plot(wt, cum_freq, 's', ms=2.3, mfc='black', mec='black', clip_on=False, zorder=3)
    ax.plot([top['wt'][0]], [1.0], 's', ms=2.3, mfc='black', mec='black', clip_on=False, zorder=3)
    ax.plot(syn, cum_freq, 'o', ms=3.0, mfc='white', mec='#666666', mew=0.5, clip_on=False, zorder=4)
    ax.plot([top['syn'][0]], [1.0], 'o', ms=3.0, mfc='white', mec='#666666', mew=0.5,
            clip_on=False, zorder=4)
    ftext(ylab_x, 711, 'cumulative frequency', size=LAB_FS, ha='center', rot=90)
    ftext(xlab_x, 800, xlabel, size=LAB_FS, ha='center')
    return ax


def inset_bar(l, c0, c1, top_val, yt, vals, errs, width, ylab, ylab_x, ptxt_x, leg_x):
    ax = mkax(l, 703, c1 + 12, 759, (0, c0, 1, c1), (0, 759, top_val, 703))
    igor(ax, yb=(0, top_val), yt=yt, ytl=[str(v) for v in yt])
    bars(ax, vals, errs, width, None, 0)
    ftext(ylab_x, 731, ylab, size=LEG_FS + 0.3, ha='center', rot=90)
    ftext(ptxt_x, 683, 'p < 0.001', ha='center')
    fig.add_artist(Rectangle(((leg_x) / W, 1 - 768.5 / H), 7 / W, 3.2 / H, transform=fig.transFigure,
                             facecolor='black', edgecolor='black', lw=0.5))
    ftext(leg_x + 10, 766.8, 'wild-type', size=SMALL_FS)
    fig.add_artist(Rectangle(((leg_x) / W, 1 - 775.5 / H), 7 / W, 3.2 / H, transform=fig.transFigure,
                             facecolor='white', edgecolor='#444444', lw=0.5))
    ftext(leg_x + 10, 774, SYN, size=SMALL_FS)


def mini_inset(l, xs, k, g):
    ax = mkax(l, 626, l + 68, 672, (0, l + 2, 10, l + 10), (0, 630, -2, 637))
    ax.axis('off')
    trace(ax, mini_t, g, GREY_TR, lw=0.8)
    trace(ax, mini_t, k, lw=0.8)
    fline([xs, xs + 3], [676, 676], color='black', lw=0.7)
    ftext(xs + 5, 676, 'wild-type', size=SMALL_FS + 0.2)
    fline([xs, xs + 3], [683, 683], color=GREY_TR, lw=0.7)
    ftext(xs + 5, 683, SYN, size=SMALL_FS + 0.2)


letter(144, 637, 'I')
cum_panel(165, (0, 178, 25, 291), (0, 25), [0, 5, 10, 15, 20, 25], I_wt, I_syn, I_top,
          'amplitude (pA)', 235, 142)
inset_bar(248, 262.5, 284, 8, [0, 2, 4, 6, 8], I_bar, I_bar_err, 0.78,
          'amplitude (pA)', 233, 268, 240)
mini_inset(163, 167, I_tr_k, I_tr_g)
scalebar(218, 226, 640, 226, 632, 640, '10 ms', '2 pA', 644, 230)

letter(311, 637, 'J')
cum_panel(344, (0, 356, 10, 393), (0, 30), [0, 10, 20, 30], J_wt, J_syn, J_top,
          'inter-event interval (s)', 413, 315)
inset_bar(430, 444, 467, 5, [0, 1, 2, 3, 4, 5], J_bar, J_bar_err, 0.78,
          'interevent interval (s)', 420, 447, 427)

letter(484, 635, 'K')
cum_panel(509, (0, 522, 40, 633), (0, 40), [0, 10, 20, 30, 40], K_wt, K_syn, K_top,
          'decay time 90% to 10% (ms)', 577, 485)
inset_bar(597, 608, 626.5, 20, [0, 5, 10, 15, 20], K_bar, K_bar_err, 0.68,
          'decay time\n90%-10% (ms)', 578, 612, 592)
mini_inset(508, 512, K_tr_k, K_tr_g)
scalebar(560, 570, 641, None, 0, 0, '10 ms', None, 645, 0)

fig.savefig('out.png', dpi=100)
